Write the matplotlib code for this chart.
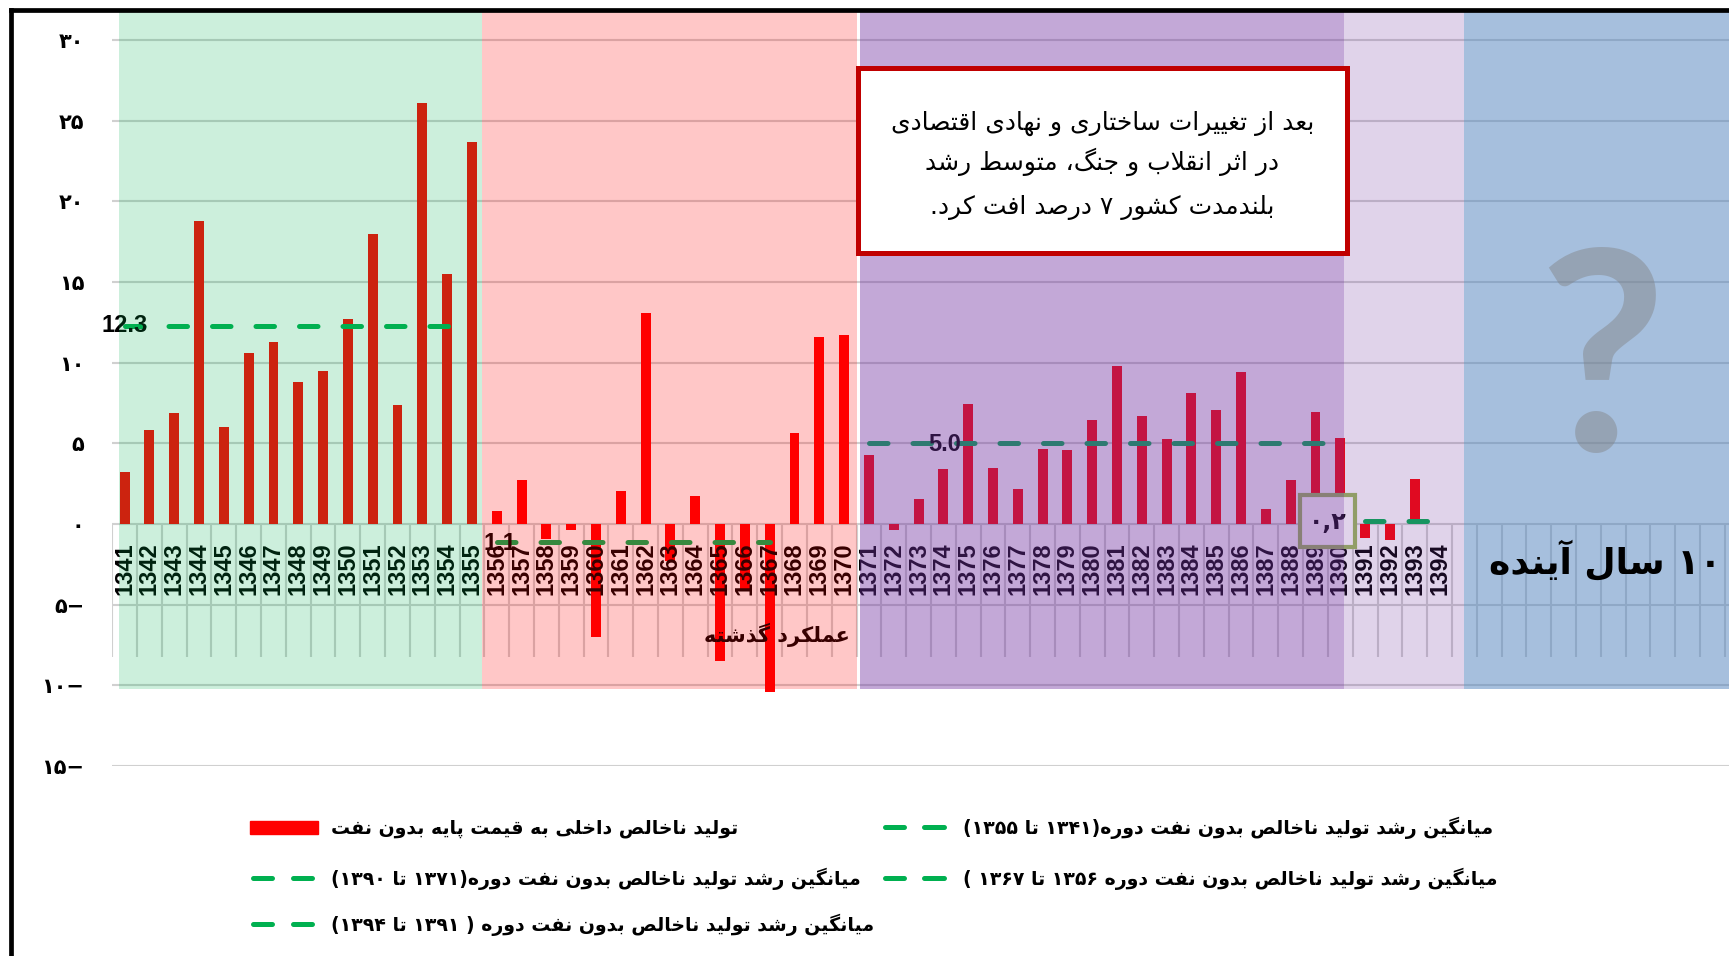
import numpy as np
import matplotlib
matplotlib.use('Agg')
import matplotlib.pyplot as plt
from matplotlib.lines import Line2D
from matplotlib.patches import Rectangle

plt.rcParams['font.family'] = ['DejaVu Sans']

# growth of non-oil GDP (percent), one value per year, 1394 has no bar
years = list(range(1341, 1395))
growth = [3.2, 5.8, 6.9, 18.8, 6.0, 10.6, 11.3, 8.8, 9.5, 12.7, 18.0, 7.4, 26.1, 15.5, 23.7,
          0.8, 2.75, -0.95, -0.35, -7.0, 2.05, 13.05, -2.3, 1.75, -8.5, -4.0, -10.4, 5.65, 11.6, 11.7,
          4.3, -0.35, 1.55, 3.4, 7.45, 3.5, 2.2, 4.65, 4.6, 6.45, 9.8, 6.7, 5.25, 8.1, 7.05, 9.4,
          0.95, 2.75, 6.95, 5.35,
          -0.85, -1.0, 2.8, np.nan]

period_start = [1341, 1356, 1371, 1391]
period_end = [1355, 1367, 1390, 1394]
period_avg = [12.3, -1.1, 5.0, 0.2]
avg_text = ['12.3', '1.1', '5.0', '۰,۲']

ytick_vals = [-15, -10, -5, 0, 5, 10, 15, 20, 25, 30]
ytick_text = ['۱۵−', '۱۰−', '۵−', '۰', '۵', '۱۰', '۱۵', '۲۰', '۲۵', '۳۰']

legend_bar = 'تولید ناخالص داخلی به قیمت پایه بدون نفت'
legend_avg = ['میانگین رشد تولید ناخالص بدون نفت دوره(۱۳۴۱ تا ۱۳۵۵)',
              'میانگین رشد تولید ناخالص بدون نفت دوره ۱۳۵۶ تا ۱۳۶۷ )',
              'میانگین رشد تولید ناخالص بدون نفت دوره(۱۳۷۱ تا ۱۳۹۰)',
              'میانگین رشد تولید ناخالص بدون نفت دوره ( ۱۳۹۱ تا ۱۳۹۴)']
note_lines = ['بعد از تغییرات ساختاری و نهادی اقتصادی',
              'در اثر انقلاب و جنگ، متوسط رشد',
              'بلندمدت کشور ۷ درصد افت کرد.']
past_text = 'عملکرد گذشته'
future_text = '۱۰ سال آینده'

# ---- minimal arabic/persian shaping (matplotlib has no text shaping) ----
FORMS = {
    'ا': (0xFE8D, 0xFE8E, None, None), 'آ': (0xFE81, 0xFE82, None, None),
    'ب': (0xFE8F, 0xFE90, 0xFE91, 0xFE92), 'پ': (0xFB56, 0xFB57, 0xFB58, 0xFB59),
    'ت': (0xFE95, 0xFE96, 0xFE97, 0xFE98), 'ث': (0xFE99, 0xFE9A, 0xFE9B, 0xFE9C),
    'ج': (0xFE9D, 0xFE9E, 0xFE9F, 0xFEA0), 'چ': (0xFB7A, 0xFB7B, 0xFB7C, 0xFB7D),
    'ح': (0xFEA1, 0xFEA2, 0xFEA3, 0xFEA4), 'خ': (0xFEA5, 0xFEA6, 0xFEA7, 0xFEA8),
    'د': (0xFEA9, 0xFEAA, None, None), 'ذ': (0xFEAB, 0xFEAC, None, None),
    'ر': (0xFEAD, 0xFEAE, None, None), 'ز': (0xFEAF, 0xFEB0, None, None),
    'ژ': (0xFB8A, 0xFB8B, None, None),
    'س': (0xFEB1, 0xFEB2, 0xFEB3, 0xFEB4), 'ش': (0xFEB5, 0xFEB6, 0xFEB7, 0xFEB8),
    'ص': (0xFEB9, 0xFEBA, 0xFEBB, 0xFEBC), 'ض': (0xFEBD, 0xFEBE, 0xFEBF, 0xFEC0),
    'ط': (0xFEC1, 0xFEC2, 0xFEC3, 0xFEC4), 'ظ': (0xFEC5, 0xFEC6, 0xFEC7, 0xFEC8),
    'ع': (0xFEC9, 0xFECA, 0xFECB, 0xFECC), 'غ': (0xFECD, 0xFECE, 0xFECF, 0xFED0),
    'ف': (0xFED1, 0xFED2, 0xFED3, 0xFED4), 'ق': (0xFED5, 0xFED6, 0xFED7, 0xFED8),
    'ک': (0xFB8E, 0xFB8F, 0xFB90, 0xFB91), 'گ': (0xFB92, 0xFB93, 0xFB94, 0xFB95),
    'ل': (0xFEDD, 0xFEDE, 0xFEDF, 0xFEE0), 'م': (0xFEE1, 0xFEE2, 0xFEE3, 0xFEE4),
    'ن': (0xFEE5, 0xFEE6, 0xFEE7, 0xFEE8), 'ه': (0xFEE9, 0xFEEA, 0xFEEB, 0xFEEC),
    'و': (0xFEED, 0xFEEE, None, None), 'ی': (0xFBFC, 0xFBFD, 0xFBFE, 0xFBFF),
}
LAMALEF = {'ا': (0xFEFB, 0xFEFC), 'آ': (0xFEF5, 0xFEF6)}
MIRROR = {'(': ')', ')': '('}
DIGITS = set('0123456789۰۱۲۳۴۵۶۷۸۹')


def joinsNext(c):
    return c in FORMS and FORMS[c][2] is not None


def shape(s):
    res = []
    i = 0
    n = len(s)
    while i < n:
        c = s[i]
        if c not in FORMS:
            res.append(c)
            i += 1
            continue
        cp = i > 0 and joinsNext(s[i - 1])
        if c == 'ل' and i + 1 < n and s[i + 1] in LAMALEF:
            lig = LAMALEF[s[i + 1]]
            res.append(chr(lig[1] if cp else lig[0]))
            i += 2
            continue
        cn = joinsNext(c) and i + 1 < n and s[i + 1] in FORMS
        iso, fin, ini, med = FORMS[c]
        if cp and cn:
            res.append(chr(med))
        elif cp:
            res.append(chr(fin))
        elif cn:
            res.append(chr(ini))
        else:
            res.append(chr(iso))
        i += 1
    # visual order: reverse, keep digit runs left to right
    tokens = []
    for ch in res:
        if ch in DIGITS and tokens and tokens[-1][0] in DIGITS:
            tokens[-1] += ch
        else:
            tokens.append(ch)
    tokens = [MIRROR.get(t, t) for t in tokens[::-1]]
    return ''.join(tokens)


W, H = 1729, 956


def fx(px):
    return px / W


def fy(py):
    return 1 - py / H


fig = plt.figure(figsize=(W / 100, H / 100), dpi=100)
ax = fig.add_axes([fx(112.2), fy(766), 1616.9 / W, 755 / H])
ax.set_xlim(-0.5, 64.67)
ax.set_ylim(-15, 31.8)
for s in ax.spines.values():
    s.set_visible(False)
ax.set_xticks([])
ax.set_yticks(ytick_vals)
ax.set_yticklabels(ytick_text, fontweight='bold', fontsize=15)
ax.tick_params(axis='y', length=0, pad=20)
ax.yaxis.grid(True, color='#d0d0d0', lw=1.5)
ax.set_axisbelow(True)

x = np.arange(len(years))
ax.bar(x, growth, width=0.4, color='#FF0000', zorder=2)

# category table lines under the zero line
ax.vlines(np.arange(-0.5, 65, 1), -8.24, 0, colors='#d0d0d0', lw=1.5, zorder=1)
for i, yr in enumerate(years):
    ax.text(i, -1.15, str(yr), rotation=90, ha='center', va='top',
            fontfamily='Liberation Sans', fontweight='bold', fontsize=17, zorder=3)

# period averages
avg_pos = [(0.02, 12.3), (15.13, -1.18), (33.07, 4.9), (48.5, 0.12)]
for k in range(len(period_avg)):
    i0 = years.index(period_start[k])
    i1 = years.index(period_end[k])
    ax.plot([i0, i1], [period_avg[k], period_avg[k]], color='#00B050', lw=3.6,
            ls=(0, (3.7, 5.0)), dash_capstyle='round', zorder=3)
    if k < 3:
        ax.text(avg_pos[k][0], avg_pos[k][1], avg_text[k], ha='center', va='center',
                fontfamily='Liberation Sans', fontweight='bold', fontsize=17, zorder=3.5)
    else:
        ax.text(avg_pos[k][0], avg_pos[k][1], avg_text[k], ha='center', va='center',
                fontweight='bold', fontsize=17, zorder=4.5)
ax.add_patch(Rectangle((47.38, -1.42), 2.21, 3.22, facecolor='white', edgecolor='#9BBB59',
                       lw=3, zorder=4))

ax.text(29.24, -6.88, shape(past_text), ha='right', va='center', fontsize=15,
        fontweight='bold', zorder=3)

# shaded eras (drawn on top, semi transparent)
spans = [(-0.23, 14.39, '#00B050', 0.2), (14.39, 29.5, '#FF0000', 0.22),
         (29.64, 49.15, '#7030A0', 0.42), (49.15, 53.99, '#7030A0', 0.21),
         (53.99, 66, '#4F81BD', 0.5)]
for x0, x1, c, a in spans:
    ax.add_patch(Rectangle((x0, -10.2), x1 - x0, 45, facecolor=c, alpha=a, lw=0, zorder=5))

ax.text(59.55, 4.52, '?', fontsize=200, fontfamily='Lato', fontweight='bold',
        color='#7F7F7F', alpha=0.43, ha='center', va='baseline', zorder=7)
ax.text(59.67, -2.23, shape(future_text), fontsize=26, fontweight='bold', ha='center',
        va='center', zorder=7)

# note box
ax.add_patch(Rectangle((29.56, 16.79), 19.71, 11.46, facecolor='white', edgecolor='#C00000',
                       lw=3.6, zorder=10))
for line, yv in zip(note_lines, [24.85, 22.43, 19.64]):
    ax.text(39.4, yv, shape(line), ha='center', va='center', fontsize=18, zorder=11)

# legend (right to left layout, handle on the left of each text)
rows = [828, 879, 925]
fig.add_artist(Rectangle((fx(250), fy(834)), 68 / W, 13 / H, transform=fig.transFigure,
                         color='#FF0000'))
fig.text(fx(331), fy(rows[0]), shape(legend_bar), ha='left', va='center', fontsize=13.6,
         fontweight='bold')


def dashHandle(xa, ya):
    for s0 in (xa, xa + 40):
        fig.add_artist(Line2D([fx(s0 + 2.5), fx(s0 + 21.5)], [fy(ya), fy(ya)],
                              transform=fig.transFigure, color='#00B050', lw=3.6,
                              solid_capstyle='round'))


entries = [(882, rows[0], legend_avg[0]), (882, rows[1], legend_avg[1]),
           (250, rows[1], legend_avg[2]), (250, rows[2], legend_avg[3])]
for xa, ya, txt in entries:
    dashHandle(xa, ya - 1)
    fig.text(fx(xa + 81), fy(ya), shape(txt), ha='left', va='center', fontsize=13.6,
             fontweight='bold')

# outer chart frame (left and top edges visible)
fig.add_artist(Line2D([fx(10.8), fx(10.8)], [0, fy(9.5)], transform=fig.transFigure,
                      color='black', lw=3.4, solid_capstyle='projecting'))
fig.add_artist(Line2D([fx(10.8), 1], [fy(9.5), fy(9.5)], transform=fig.transFigure,
                      color='black', lw=3.4, solid_capstyle='projecting'))

fig.savefig('out.png', dpi=100)
